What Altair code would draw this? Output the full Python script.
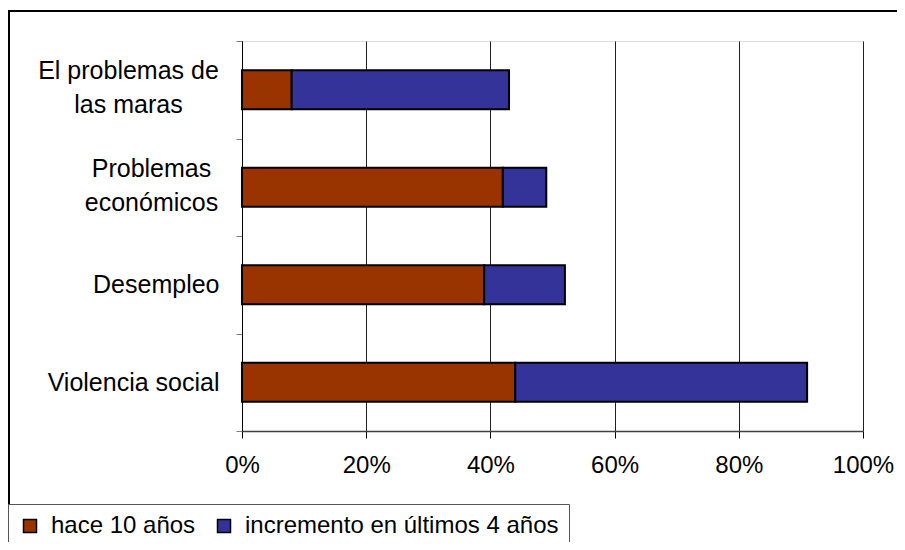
import altair as alt
import pandas as pd

categorias = ["El problemas de las maras", "Problemas económicos", "Desempleo", "Violencia social"]
series = ["hace 10 años", "incremento en últimos 4 años"]
hace_10 = [8, 42, 39, 44]
incremento = [35, 7, 13, 47]
colores = ["#993300", "#333399"]
x_ticks = [0, 20, 40, 60, 80, 100]

rows = []
for i, c in enumerate(categorias):
    rows.append({"cat": c, "serie": series[0], "valor": hace_10[i], "orden": 0})
    rows.append({"cat": c, "serie": series[1], "valor": incremento[i], "orden": 1})
df = pd.DataFrame(rows)

label_expr = (
    "datum.value == 'El problemas de las maras' ? ['El problemas de', 'las maras'] : "
    "datum.value == 'Problemas económicos' ? ['Problemas', 'económicos'] : datum.value"
)
test_maras = "datum.value == 'El problemas de las maras'"
test_econ = "datum.value == 'Problemas económicos'"
two_line_test = test_maras + " || " + test_econ

FONT = "Liberation Sans"

bars = alt.Chart(df).mark_bar(stroke="black", strokeWidth=2, height={"band": 0.4}).encode(
    y=alt.Y(
        "cat:N",
        sort=categorias,
        scale=alt.Scale(paddingInner=0, paddingOuter=0),
        axis=alt.Axis(
            title=None,
            labelExpr=label_expr,
            labelFontSize=25,
            labelFont=FONT,
            labelColor="black",
            labelAlign={"condition": {"test": two_line_test, "value": "center"}, "value": "right"},
            labelLimit=0,
            labelLineHeight=34,
            labelOffset={"condition": {"test": two_line_test, "value": -19}, "value": 0},
            labelPadding={
                "condition": [
                    {"test": test_maras, "value": 108},
                    {"test": test_econ, "value": 85},
                ],
                "value": 17,
            },
            tickBand="extent",
            tickSize=6,
            tickColor="#808080",
            domainColor="black",
            grid=False,
        ),
    ),
    x=alt.X(
        "valor:Q",
        stack="zero",
        scale=alt.Scale(domain=[0, 100], nice=False),
        axis=alt.Axis(
            title=None,
            values=x_ticks,
            labelExpr="datum.value + '%'",
            labelFontSize=24,
            labelFont=FONT,
            labelColor="black",
            labelFlush=False,
            labelPadding=15,
            tickSize=7,
            tickColor="black",
            domainColor="#404040",
            domainWidth=1.5,
            grid=True,
            gridColor="#222222",
            gridWidth=1,
        ),
    ),
    color=alt.Color(
        "serie:N",
        scale=alt.Scale(domain=series, range=colores),
        legend=alt.Legend(
            title=None,
            orient="none",
            legendX=-234,
            legendY=463,
            direction="horizontal",
            strokeColor="#555555",
            fillColor="white",
            padding=10,
            symbolType="square",
            symbolSize=169,
            symbolStrokeColor="black",
            symbolStrokeWidth=1.5,
            labelFontSize=24,
            labelFont=FONT,
            labelColor="black",
            labelLimit=0,
            labelOffset=9,
            columnPadding=16,
        ),
    ),
    order=alt.Order("orden:Q"),
)

border = alt.Chart(pd.DataFrame({"a": [0]})).mark_rect(
    fill=None, stroke="black", strokeWidth=2
).encode(
    x=alt.value(-233),
    x2=alt.value(760),
    y=alt.value(-30),
    y2=alt.value(600),
)

chart = alt.layer(border, bars).properties(
    width=621,
    height=390,
    padding={"left": 234, "top": 33, "right": 34, "bottom": 111},
    autosize=alt.AutoSizeParams(type="none"),
).configure_view(stroke="#808080", strokeWidth=1.5).configure(background="white")

chart.save("out.html", embed_options={"renderer": "svg", "actions": False})
